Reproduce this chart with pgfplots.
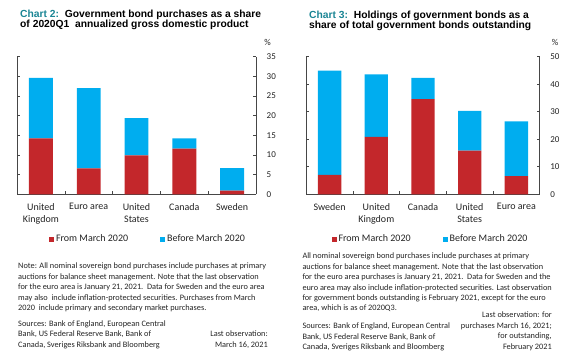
\documentclass[border=0pt]{standalone}
\usepackage{pgfplots}
\pgfplotsset{compat=1.18}
\usepackage{fontspec}
\setmainfont{Carlito}
\newfontfamily\titlefont{Liberation Sans}
\definecolor{bocred}{RGB}{195,39,43}
\definecolor{bocblue}{RGB}{0,173,239}
\definecolor{tealc}{RGB}{26,133,148}
\definecolor{axgray}{RGB}{70,70,70}
\definecolor{txtgray}{RGB}{35,35,35}
\newcommand{\notefont}{\fontsize{8.3}{10}\selectfont\color{txtgray}}
\newcommand{\titlef}{\titlefont\bfseries\fontsize{10.3}{12}\selectfont}
\newcommand{\T}[4]{\node[anchor=base #1, inner sep=0pt, font=\notefont] at (#2pt,{358pt-#3pt}) {#4};}
\newcommand{\TT}[3]{\node[anchor=base west, inner sep=0pt, font=\titlef] at (#1pt,{358pt-#2pt}) {#3};}
\pgfplotsset{bocaxis/.style={
  scale only axis, height=137.6pt,
  ybar stacked, bar width=0.5,
  xmin=-0.5, xmax=4.5, ymin=0,
  axis x line=bottom, axis y line=box,
  axis line style={-, draw=axgray, line width=0.6pt},
  every tick/.style={draw=axgray, line width=0.6pt},
  tick align=inside, major tick length=3pt, minor tick length=3pt,
  xtick={0,1,2,3,4}, minor xtick={0.5,1.5,2.5,3.5},
  major x tick style={draw=none},
  xtick pos=bottom, ytick pos=both, yticklabel pos=right,
  /pgf/number format/assume math mode=true,
  yticklabel style={font=\fontsize{9}{11}\selectfont\color{txtgray}, anchor=west, inner sep=0pt, xshift=10.5pt},
  xticklabel style={font=\fontsize{10}{12.5}\selectfont\color{txtgray}, align=center, anchor=north, inner sep=0pt, yshift=-9pt},
  legend image code/.code={\fill[##1] (0pt,-2.5pt) rectangle (5pt,2.5pt);},
  legend style={draw=none, fill=none, legend columns=2, font=\fontsize{10}{12}\selectfont\color{txtgray}, anchor=center,
    /tikz/every even column/.append style={column sep=30pt}},
}}
\begin{document}
\begin{tikzpicture}
\path (0,0) rectangle (567pt,358pt);
% ---------- left chart
\begin{axis}[bocaxis, at={(17pt,163.7pt)}, anchor=south west, width=239pt,
  ymax=35, ytick={0,5,...,35},
  xticklabels={{\vphantom{Ag}United\\Kingdom},{\vphantom{Ag}Euro area},{\vphantom{Ag}United\\States},{\vphantom{Ag}Canada},{\vphantom{Ag}Sweden}},
  legend style={at={(0.548,-0.325)}}]
\addplot[fill=bocred, draw=none] coordinates {(0,14.2) (1,6.6) (2,9.9) (3,11.6) (4,0.95)};
\addplot[fill=bocblue, draw=none] coordinates {(0,15.4) (1,20.4) (2,9.5) (3,2.6) (4,5.7)};
\legend{From March 2020, Before March 2020}
\end{axis}
% ---------- right chart
\begin{axis}[bocaxis, at={(306.3pt,163.7pt)}, anchor=south west, width=233.4pt,
  ymax=50, ytick={0,10,...,50},
  xticklabels={{\vphantom{Ag}Sweden},{\vphantom{Ag}United\\Kingdom},{\vphantom{Ag}Canada},{\vphantom{Ag}United\\States},{\vphantom{Ag}Euro area}},
  legend style={at={(0.532,-0.325)}}]
\addplot[fill=bocred, draw=none] coordinates {(0,7.1) (1,20.9) (2,34.6) (3,15.9) (4,6.6)};
\addplot[fill=bocblue, draw=none] coordinates {(0,37.8) (1,22.7) (2,7.7) (3,14.4) (4,19.9)};
\legend{From March 2020, Before March 2020}
\end{axis}
% ---------- titles
\TT{20}{18}{\textcolor{tealc}{Chart 2:}\ \ Government bond purchases as a share}
\TT{20}{28}{of 2020Q1\ \ annualized gross domestic product}
\TT{309}{18.3}{\textcolor{tealc}{Chart 3:}\ \ Holdings of government bonds as a}
\TT{309}{28.7}{share of total government bonds outstanding}
\node[anchor=base, inner sep=0pt, font=\fontsize{9}{11}\selectfont\color{txtgray}] at (267.5pt,{358pt-46pt}) {\%};
\node[anchor=base, inner sep=0pt, font=\fontsize{9}{11}\selectfont\color{txtgray}] at (555pt,{358pt-46pt}) {\%};
% ---------- left notes
\T{west}{18}{269}{Note: All nominal sovereign bond purchases include purchases at primary}
\T{west}{18}{279.4}{auctions for balance sheet management. Note that the last observation}
\T{west}{18}{289.8}{for the euro area is January 21, 2021.\ \ Data for Sweden and the euro area}
\T{west}{18}{300.2}{may also\ \ include inflation-protected securities. Purchases from March}
\T{west}{18}{310.6}{2020\ \ include primary and secondary market purchases.}
\T{west}{18}{326.5}{Sources: Bank of England, European Central}
\T{west}{18}{337}{Bank, US Federal Reserve Bank, Bank of}
\T{west}{18}{347.5}{Canada, Sveriges Riksbank and Bloomberg}
\T{east}{268}{337}{Last observation:}
\T{east}{268}{347.5}{March 16,\ 2021}
% ---------- right notes
\T{west}{302.3}{259}{All nominal sovereign bond purchases include purchases at primary}
\T{west}{302.3}{269.4}{auctions for balance sheet management. Note that the last observation}
\T{west}{302.3}{279.8}{for the euro area purchases is January 21, 2021.\ \ Data for Sweden and the}
\T{west}{302.3}{290.2}{euro area may also include inflation-protected securities. Last observation}
\T{west}{302.3}{300.6}{for government bonds outstanding is February 2021, except for the euro}
\T{west}{302.3}{311}{area, which is as of 2020Q3.}
\T{west}{302.3}{329}{Sources: Bank of England, European Central}
\T{west}{302.3}{339.5}{Bank, US Federal Reserve Bank, Bank of}
\T{west}{302.3}{350}{Canada, Sveriges Riksbank and Bloomberg}
\T{east}{552}{318}{Last observation: for}
\T{east}{552}{328.5}{purchases March 16, 2021;}
\T{east}{552}{339}{for outstanding,}
\T{east}{552}{349.5}{February 2021}
\end{tikzpicture}
\end{document}
